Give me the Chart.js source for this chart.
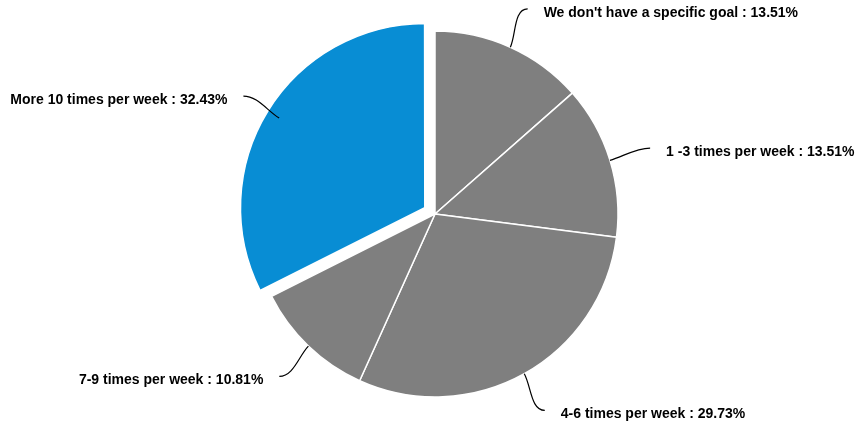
<!DOCTYPE html>
<html>
<head>
<meta charset="utf-8">
<script src="https://cdn.jsdelivr.net/npm/chart.js@4"></script>
<style>
    body { margin: 0; background: #fff; }
    #wrap { width: 857px; height: 421px; }
</style>
</head>
<body>
<div id="wrap"><canvas id="freqChart" width="857" height="421"></canvas></div>
<script>
const labels = [
    "We don't have a specific goal",
    '1 -3 times per week',
    '4-6 times per week',
    '7-9 times per week',
    'More 10 times per week'
];
const shares = [13.51, 13.51, 29.73, 10.81, 32.43];
const sliceColors = ['#7f7f7f', '#7f7f7f', '#7f7f7f', '#7f7f7f', '#088dd4'];
// chart.js moves an arc by offset / 4, so 48 pulls the blue slice out 12px
const sliceOffsets = [0, 0, 0, 0, 48];
// leader of the pulled-out slice starts a bit inside its edge
const startInset = [0, 0, 0, 0, 12];

// curved leader lines and "label : value%" texts around the pie
const leaderLabels = {
    id: 'leaderLabels',
    afterDatasetsDraw(chart) {
        const ctx = chart.ctx;
        const arcs = chart.getDatasetMeta(0).data;
        ctx.save();
        ctx.font = 'bold 14px "Liberation Sans", Arial, sans-serif';
        ctx.fillStyle = '#000';
        ctx.strokeStyle = '#000';
        ctx.lineWidth = 1.2;
        arcs.forEach((arc, i) => {
            const p = arc.getProps(['x', 'y', 'startAngle', 'endAngle', 'outerRadius']);
            const a = (p.startAngle + p.endAngle) / 2;
            const dx = Math.cos(a), dy = Math.sin(a);
            const off = sliceOffsets[i] / 4;
            const r0 = p.outerRadius - startInset[i];
            const x0 = p.x + dx * (off + r0), y0 = p.y + dy * (off + r0);
            const x3 = p.x + dx * (p.outerRadius + 42);
            const y3 = p.y + dy * (p.outerRadius + 42);
            const side = dx >= 0 ? 1 : -1;

            ctx.beginPath();
            ctx.moveTo(x0, y0);
            ctx.bezierCurveTo(x0 + dx * 14, y0 + dy * 14, x3 - side * 14, y3, x3, y3);
            ctx.stroke();

            ctx.textAlign = side > 0 ? 'left' : 'right';
            ctx.textBaseline = 'middle';
            ctx.fillText(labels[i] + ' : ' + shares[i].toFixed(2) + '%', x3 + side * 16, y3 + 4);
        });
        ctx.restore();
    }
};

new Chart(document.getElementById('freqChart'), {
    type: 'pie',
    data: {
        labels: labels,
        datasets: [{
            data: shares,
            backgroundColor: sliceColors,
            borderColor: '#ffffff',
            borderWidth: 1.5,
            offset: sliceOffsets,
            radius: 183
        }]
    },
    options: {
        responsive: false,
        animation: false,
        layout: {
            padding: { left: 13, right: 0, top: 7, bottom: 0 }
        },
        plugins: {
            legend: { display: false },
            tooltip: { enabled: false }
        }
    },
    plugins: [leaderLabels]
});
</script>
</body>
</html>
